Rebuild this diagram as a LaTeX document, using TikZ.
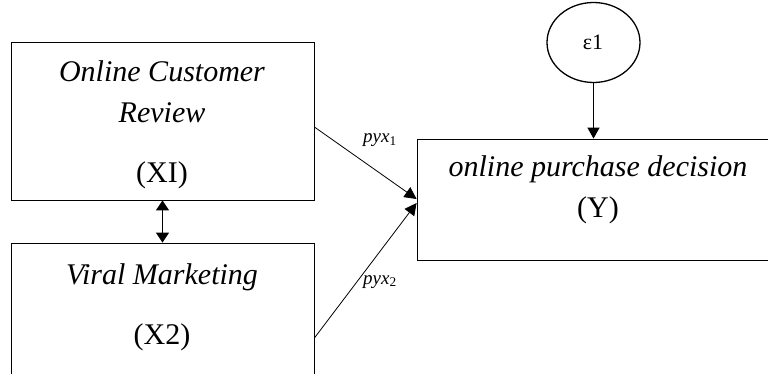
\documentclass[tikz,border=0pt]{standalone}
\usepackage{fontspec}
\setmainfont{Liberation Serif}
\usetikzlibrary{arrows.meta,shapes.geometric}
\begin{document}
\begin{tikzpicture}[x=1pt,y=-1pt,
  box/.style={draw,line width=0.8pt,inner sep=0pt},
  lbl/.style={font=\fontsize{30}{32}\selectfont,inner sep=0pt,anchor=base},
  coef/.style={font=\fontsize{19}{20}\selectfont,inner sep=0pt,anchor=base west},
  path/.style={line width=0.8pt,-{Triangle[length=12pt,width=12pt]}},
  tip/.style={-{Triangle[length=11pt,width=12pt]}}]
\useasboundingbox (0,0) rectangle (768,374);
% exogenous variables
\node[box,minimum width=303pt,minimum height=158pt] (b1) at (162.5,121) {};
\node[box,minimum width=303pt,minimum height=160pt] (b2) at (162.5,323) {};
% endogenous variable
\node[box,minimum width=351pt,minimum height=121pt] (y) at (592.5,199.5) {};
% residual
\node[draw,ellipse,line width=1.3pt,minimum width=93pt,minimum height=80pt,inner sep=0pt] (e) at (593.5,42.5) {};
\node[font=\fontsize{22}{24}\selectfont,inner sep=0pt,anchor=base] (et) at (593,50) {ε1};
% box labels
\node[lbl] (t1a) at (162,82) {\itshape Online Customer};
\node[lbl] (t1b) at (162,123) {\itshape Review};
\node[lbl] (t1c) at (162,183) {(XI)};
\node[lbl] (t2a) at (162,284) {\itshape Viral Marketing};
\node[lbl] (t2c) at (162,344) {(X2)};
\node[lbl] (t3a) at (598,177) {\itshape online purchase decision};
\node[lbl] (t3b) at (598,218) {(Y)};
% path coefficients
\node[coef] (p1) at (363,143) {\itshape pyx\textsubscript{\upshape 1}};
\node[coef] (p2) at (363,284) {\itshape pyx\textsubscript{\upshape 2}};
% connectors
\draw[path] ([yshift=-6pt]b1.east) -- ([yshift=0.5pt]y.west);
\draw[path] ([yshift=-15pt]b2.east) -- ([yshift=-3.5pt]y.west);
\draw[line width=1.3pt,tip] (e.south) -- (y.north -| e.south);
\draw[line width=1pt,{Triangle[length=10pt,width=13pt]}-{Triangle[length=10pt,width=13pt]}] (b1.south) -- (b2.north);
\end{tikzpicture}
\end{document}
